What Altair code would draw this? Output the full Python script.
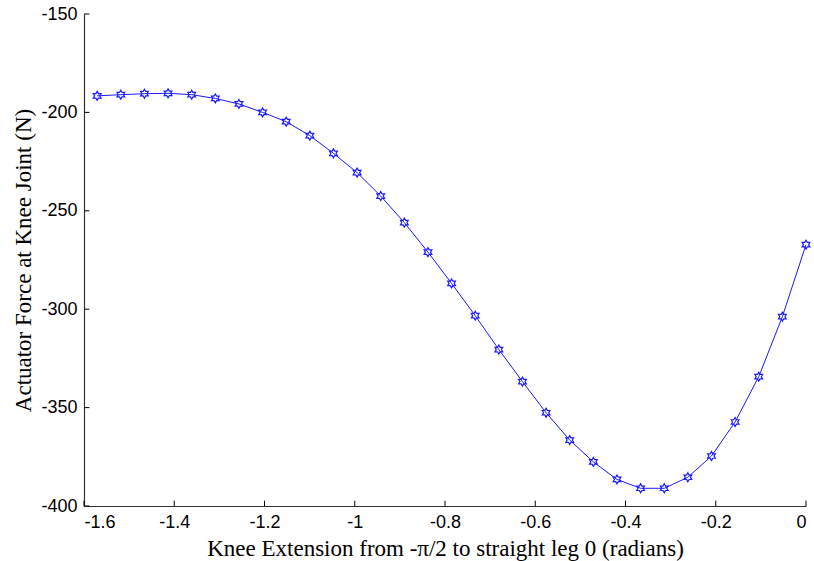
import math
import altair as alt
import pandas as pd

# x: knee angle from -pi/2 to 0 in 30 steps
n_steps = 30
angles = [-math.pi / 2 + i * (math.pi / 2) / n_steps for i in range(n_steps + 1)]
forces = [-191.6, -191.0, -190.5, -190.3, -191.0, -192.9, -195.7, -200.0, -204.7, -211.8,
          -220.8, -230.6, -242.5, -256.0, -271.0, -286.9, -303.3, -320.5, -336.8, -352.6,
          -366.5, -377.6, -386.5, -391.0, -391.0, -385.4, -374.6, -357.3, -334.3, -303.8, -267.2]

x_ticks = [-1.6, -1.4, -1.2, -1.0, -0.8, -0.6, -0.4, -0.2, 0.0]
y_ticks = [-400, -350, -300, -250, -200, -150]

df = pd.DataFrame({"x": angles, "y": forces})
xt = pd.DataFrame({"v": x_ticks})
yt = pd.DataFrame({"v": y_ticks})

xs = alt.Scale(domain=[-1.6, 0], nice=False, zero=False)
ys = alt.Scale(domain=[-400, -150], nice=False, zero=False)

x_axis = alt.Axis(title="Knee Extension from -\u03c0/2 to straight leg 0 (radians)",
                  values=x_ticks, labelExpr="'' + datum.value", orient="bottom",
                  labelPadding=7, titlePadding=6)
y_axis = alt.Axis(title="Actuator Force at Knee Joint (N)", values=y_ticks, orient="left",
                  labelExpr="'' + datum.value", labelPadding=7, titlePadding=5)

blue = "#1a1aff"
hexagram = ("M0,-1L0.289,-0.5L0.866,-0.5L0.577,0L0.866,0.5L0.289,0.5L0,1"
            "L-0.289,0.5L-0.866,0.5L-0.577,0L-0.866,-0.5L-0.289,-0.5Z")

line = alt.Chart(df).mark_line(color=blue, strokeWidth=1).encode(
    x=alt.X("x:Q", scale=xs, axis=x_axis),
    y=alt.Y("y:Q", scale=ys, axis=y_axis),
)
pts = alt.Chart(df).mark_point(shape=hexagram, filled=False, color=blue, size=80,
                               strokeWidth=1.2, opacity=1).encode(
    x=alt.X("x:Q", scale=xs, axis=x_axis), y=alt.Y("y:Q", scale=ys, axis=y_axis))

xtick = alt.Chart(xt).mark_rule(color="#000000", strokeWidth=1).encode(
    x=alt.X("v:Q", scale=xs, axis=x_axis),
    y=alt.Y(datum=-400, scale=ys, axis=y_axis),
    y2=alt.Y2(datum=-397.3))
ytick = alt.Chart(yt).mark_rule(color="#000000", strokeWidth=1).encode(
    y=alt.Y("v:Q", scale=ys, axis=y_axis),
    x=alt.X(datum=-1.6, scale=xs, axis=x_axis),
    x2=alt.X2(datum=-1.588))

chart = alt.layer(line, pts, xtick, ytick).properties(
    width=722, height=492,
    autosize=alt.AutoSizeParams(type="none"),
    padding={"left": 84, "top": 14, "right": 8, "bottom": 55},
    background="white",
).configure_view(stroke=None).configure_axis(
    grid=False, ticks=False, domainColor="#333333", domainWidth=1.2,
    labelFont="Liberation Sans", labelFontSize=18, labelColor="#000000",
    titleFont="Liberation Serif", titleFontSize=23, titleFontWeight="normal",
    titleColor="#000000",
)

chart.save("out.html", embed_options={"renderer": "svg", "actions": False})
